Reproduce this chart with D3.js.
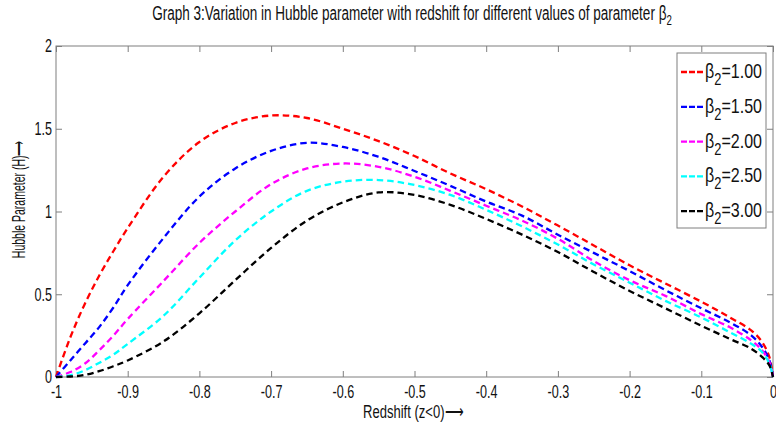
<!DOCTYPE html>
<html>
<head>
<meta charset="utf-8">
<script src="https://cdn.jsdelivr.net/npm/d3@7"></script>
<style>
  body { margin: 0; background: #fff; }
  svg text { font-family: "Liberation Sans", Arial, sans-serif; }
</style>
</head>
<body>
<svg id="chart" width="776" height="426"></svg>
<script>
// redshift grid
const zVals = [-1, -0.98, -0.96, -0.94, -0.92, -0.9, -0.85, -0.8, -0.75, -0.7, -0.65, -0.6, -0.55,
  -0.5, -0.45, -0.4, -0.35, -0.3, -0.25, -0.2, -0.15, -0.1, -0.06, -0.03, -0.015, -0.005, 0];

// Hubble parameter for each beta_2
const hBeta100 = [0, 0.24, 0.44, 0.61, 0.76, 0.90, 1.21, 1.42, 1.535, 1.58, 1.565, 1.50, 1.425,
  1.335, 1.23, 1.135, 1.03, 0.915, 0.795, 0.675, 0.565, 0.455, 0.36, 0.28, 0.21, 0.12, 0];
const hBeta150 = [0, 0.10, 0.20, 0.30, 0.42, 0.555, 0.84, 1.09, 1.26, 1.366, 1.415, 1.39, 1.33,
  1.245, 1.155, 1.06, 0.975, 0.86, 0.75, 0.64, 0.525, 0.415, 0.33, 0.25, 0.18, 0.10, 0];
const hBeta200 = [0, 0.03, 0.08, 0.16, 0.25, 0.35, 0.58, 0.81, 1.0, 1.165, 1.26, 1.29, 1.27,
  1.21, 1.125, 1.035, 0.945, 0.835, 0.70, 0.585, 0.49, 0.38, 0.30, 0.22, 0.16, 0.09, 0];
const hBeta250 = [0, 0.01, 0.04, 0.085, 0.135, 0.20, 0.37, 0.60, 0.825, 1.0, 1.125, 1.18, 1.19,
  1.16, 1.10, 1.01, 0.91, 0.80, 0.68, 0.57, 0.46, 0.36, 0.27, 0.20, 0.15, 0.08, 0];
const hBeta300 = [0, 0.003, 0.012, 0.035, 0.065, 0.10, 0.215, 0.385, 0.585, 0.78, 0.945, 1.055, 1.115,
  1.10, 1.04, 0.955, 0.86, 0.755, 0.635, 0.52, 0.415, 0.31, 0.23, 0.17, 0.12, 0.07, 0];

const betaLabels = ["1.00", "1.50", "2.00", "2.50", "3.00"];
const seriesColors = ["#ff0000", "#0000ff", "#ff00ff", "#00ffff", "#000000"];
const xTicks = [-1, -0.9, -0.8, -0.7, -0.6, -0.5, -0.4, -0.3, -0.2, -0.1, 0];
const yTicks = [0, 0.5, 1, 1.5, 2];

const series = [hBeta100, hBeta150, hBeta200, hBeta250, hBeta300].map((vals, i) => ({
  label: betaLabels[i],
  color: seriesColors[i],
  points: vals.map((h, j) => [zVals[j], h])
}));

const svg = d3.select("#chart");
const plotL = 56, plotR = 773, plotT = 46, plotB = 377;
const axisGray = "#7f7f7f";
const textCol = "#111";
const sx = 0.7; // narrow look of the original font

const x = d3.scaleLinear().domain([-1, 0]).range([plotL, plotR]);
const y = d3.scaleLinear().domain([0, 2]).range([plotB, plotT]);

// horizontal factor so that a text spans the given width
function fitWidth(sel, width) {
  const w = sel.node().getBBox().width;
  return width / w;
}

// plot box
svg.append("rect")
  .attr("x", plotL).attr("y", plotT)
  .attr("width", plotR - plotL).attr("height", plotB - plotT)
  .attr("fill", "none").attr("stroke", axisGray).attr("stroke-width", 1);

const fmt = d => String(+d.toFixed(1));

const styleAxis = g => {
  g.select(".domain").remove();
  g.selectAll(".tick line").attr("stroke", axisGray);
  g.selectAll(".tick text").attr("fill", textCol).attr("font-size", 18);
};

svg.append("g").attr("transform", `translate(0,${plotB})`)
  .call(d3.axisBottom(x).tickValues(xTicks).tickFormat(fmt).tickSize(-6).tickPadding(8))
  .call(styleAxis)
  .selectAll(".tick text").attr("transform", `scale(${sx},1)`);
svg.append("g").attr("transform", `translate(0,${plotT})`)
  .call(d3.axisTop(x).tickValues(xTicks).tickFormat("").tickSize(-6))
  .call(styleAxis);
svg.append("g").attr("transform", `translate(${plotL},0)`)
  .call(d3.axisLeft(y).tickValues(yTicks).tickFormat(fmt).tickSize(-6).tickPadding(4))
  .call(styleAxis)
  .selectAll(".tick text").attr("x", -4 / sx).attr("transform", `scale(${sx},1)`);
svg.append("g").attr("transform", `translate(${plotR},0)`)
  .call(d3.axisRight(y).tickValues(yTicks).tickFormat("").tickSize(-6))
  .call(styleAxis);

// curves
const line = d3.line()
  .x(d => x(d[0]))
  .y(d => y(d[1]))
  .curve(d3.curveCatmullRom.alpha(0.5));

svg.append("g").selectAll("path")
  .data(series)
  .join("path")
  .attr("d", d => line(d.points))
  .attr("fill", "none")
  .attr("stroke", d => d.color)
  .attr("stroke-width", 2.3)
  .attr("stroke-dasharray", "6.5,4");

// title
const titleG = svg.append("g");
const title = titleG.append("text")
  .attr("text-anchor", "middle")
  .attr("font-size", 21)
  .attr("fill", textCol);
title.append("tspan").text("Graph 3:Variation in Hubble parameter with redshift for different values of parameter β");
title.append("tspan").attr("dy", 5).attr("font-size", 15).text("2");
titleG.attr("transform", `translate(412,20) scale(${fitWidth(title, 520)},1)`);

// axis labels
const xlabG = svg.append("g");
const xlab = xlabG.append("text")
  .attr("text-anchor", "middle")
  .attr("font-size", 19)
  .attr("fill", textCol)
  .text("Redshift (z<0)⟶");
xlabG.attr("transform", `translate(413,418) scale(${fitWidth(xlab, 100)},1)`);

const ylabG = svg.append("g");
const ylab = ylabG.append("text")
  .attr("text-anchor", "middle")
  .attr("font-size", 18)
  .attr("fill", textCol)
  .text("Hubble Parameter (H)⟶");
ylabG.attr("transform", `translate(25,199) rotate(-90) scale(${fitWidth(ylab, 118)},1)`);

// legend
const legend = svg.append("g");
legend.append("rect")
  .attr("x", 677).attr("y", 53)
  .attr("width", 89).attr("height", 175)
  .attr("fill", "#fff").attr("stroke", axisGray);

const rows = legend.selectAll("g.row")
  .data(series)
  .join("g")
  .attr("class", "row")
  .attr("transform", (d, i) => `translate(0,${72 + i * 34.8})`);

rows.append("line")
  .attr("x1", 681).attr("x2", 703)
  .attr("stroke", d => d.color)
  .attr("stroke-width", 2.3)
  .attr("stroke-dasharray", "6,2");

const lt = rows.append("g")
  .attr("transform", "translate(705,6)")
  .append("text")
  .attr("font-size", 20)
  .attr("fill", textCol);
lt.append("tspan").text("β");
lt.append("tspan").attr("dy", 7).attr("font-size", 16).text("2");
lt.append("tspan").attr("dy", -7).text(d => "=" + d.label);
lt.each(function () {
  const t = d3.select(this);
  d3.select(this.parentNode).attr("transform", `translate(705,6) scale(${fitWidth(t, 57)},1)`);
});
</script>
</body>
</html>
